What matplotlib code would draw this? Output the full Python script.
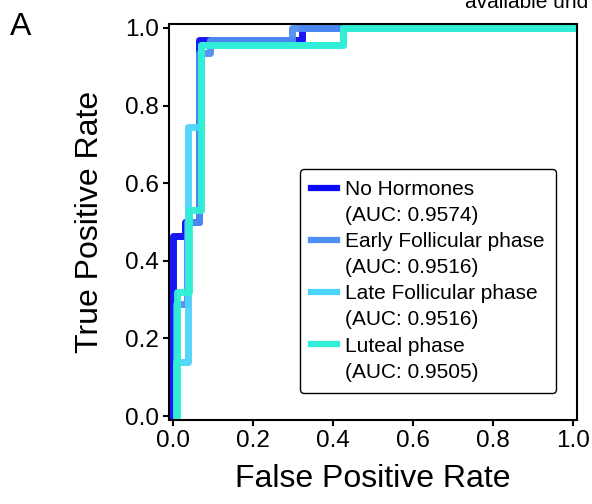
import matplotlib
matplotlib.use('Agg')
import matplotlib.pyplot as plt
from matplotlib.lines import Line2D

plt.rcParams['font.family'] = ['Liberation Sans', 'DejaVu Sans']

# ROC curves (false positive rate / true positive rate) per hormone condition
no_hormones_fpr = [0, 0, 0.031, 0.031, 0.066, 0.066, 0.323, 0.323, 1]
no_hormones_tpr = [0, 0.465, 0.465, 0.50, 0.50, 0.968, 0.968, 1, 1]

early_fpr = [0.008, 0.008, 0.035, 0.035, 0.066, 0.066, 0.093, 0.093, 0.298, 0.298, 1]
early_tpr = [0, 0.29, 0.29, 0.50, 0.50, 0.935, 0.935, 0.968, 0.968, 1, 1]

late_fpr = [0.008, 0.008, 0.038, 0.038, 0.069, 0.069, 0.425, 0.425, 1]
late_tpr = [0, 0.14, 0.14, 0.746, 0.746, 0.956, 0.956, 1, 1]

luteal_fpr = [0.011, 0.011, 0.041, 0.041, 0.07, 0.07, 0.425, 0.425, 1]
luteal_tpr = [0, 0.32, 0.32, 0.53, 0.53, 0.956, 0.956, 1, 1]

names = ['No Hormones', 'Early Follicular phase', 'Late Follicular phase', 'Luteal phase']
aucs = [0.9574, 0.9516, 0.9516, 0.9505]
colors = ['#0a0af5', '#4f8ef2', '#4ed3fb', '#2ff0d4']

curves = [(no_hormones_fpr, no_hormones_tpr), (early_fpr, early_tpr),
          (late_fpr, late_tpr), (luteal_fpr, luteal_tpr)]

fig = plt.figure(figsize=(5.92, 5.04), dpi=100)
ax = fig.add_axes([0.2855, 0.1667, 0.689, 0.7855])

handles, labels = [], []
for (fpr, tpr), name, auc, c in zip(curves, names, aucs, colors):
    ax.plot(fpr, tpr, color=c, lw=5, alpha=0.95)
    # name row carries the coloured handle, AUC row gets a blank one
    handles += [Line2D([], [], color=c, lw=4.5), Line2D([], [], color='none')]
    labels += [name, f'(AUC: {auc:.4f})']

ax.set_xlim(-0.01, 1.01)
ax.set_ylim(-0.01, 1.01)
ax.set_xticks([0, 0.2, 0.4, 0.6, 0.8, 1.0])
ax.set_yticks([0, 0.2, 0.4, 0.6, 0.8, 1.0])
ax.tick_params(labelsize=17.5, width=1.5, length=4)
for s in ax.spines.values():
    s.set_linewidth(1.5)

ax.set_xlabel('False Positive Rate', fontsize=23, labelpad=8)
ax.set_ylabel('True Positive Rate', fontsize=23, labelpad=14)

leg = ax.legend(handles, labels, loc='lower right', bbox_to_anchor=(0.948, 0.068),
                fontsize=15, frameon=True, fancybox=True, edgecolor='black',
                framealpha=1, handlelength=1.25, handletextpad=0.35,
                labelspacing=0.34, borderpad=0.55, borderaxespad=0)
leg.get_frame().set_linewidth(1.0)

fig.text(0.017, 1 - 35 / 504, 'A', fontsize=23, va='baseline')
fig.text(465 / 592, 1 - 8 / 504, 'available und', fontsize=15, va='baseline')

fig.savefig('out.png', dpi=100)
